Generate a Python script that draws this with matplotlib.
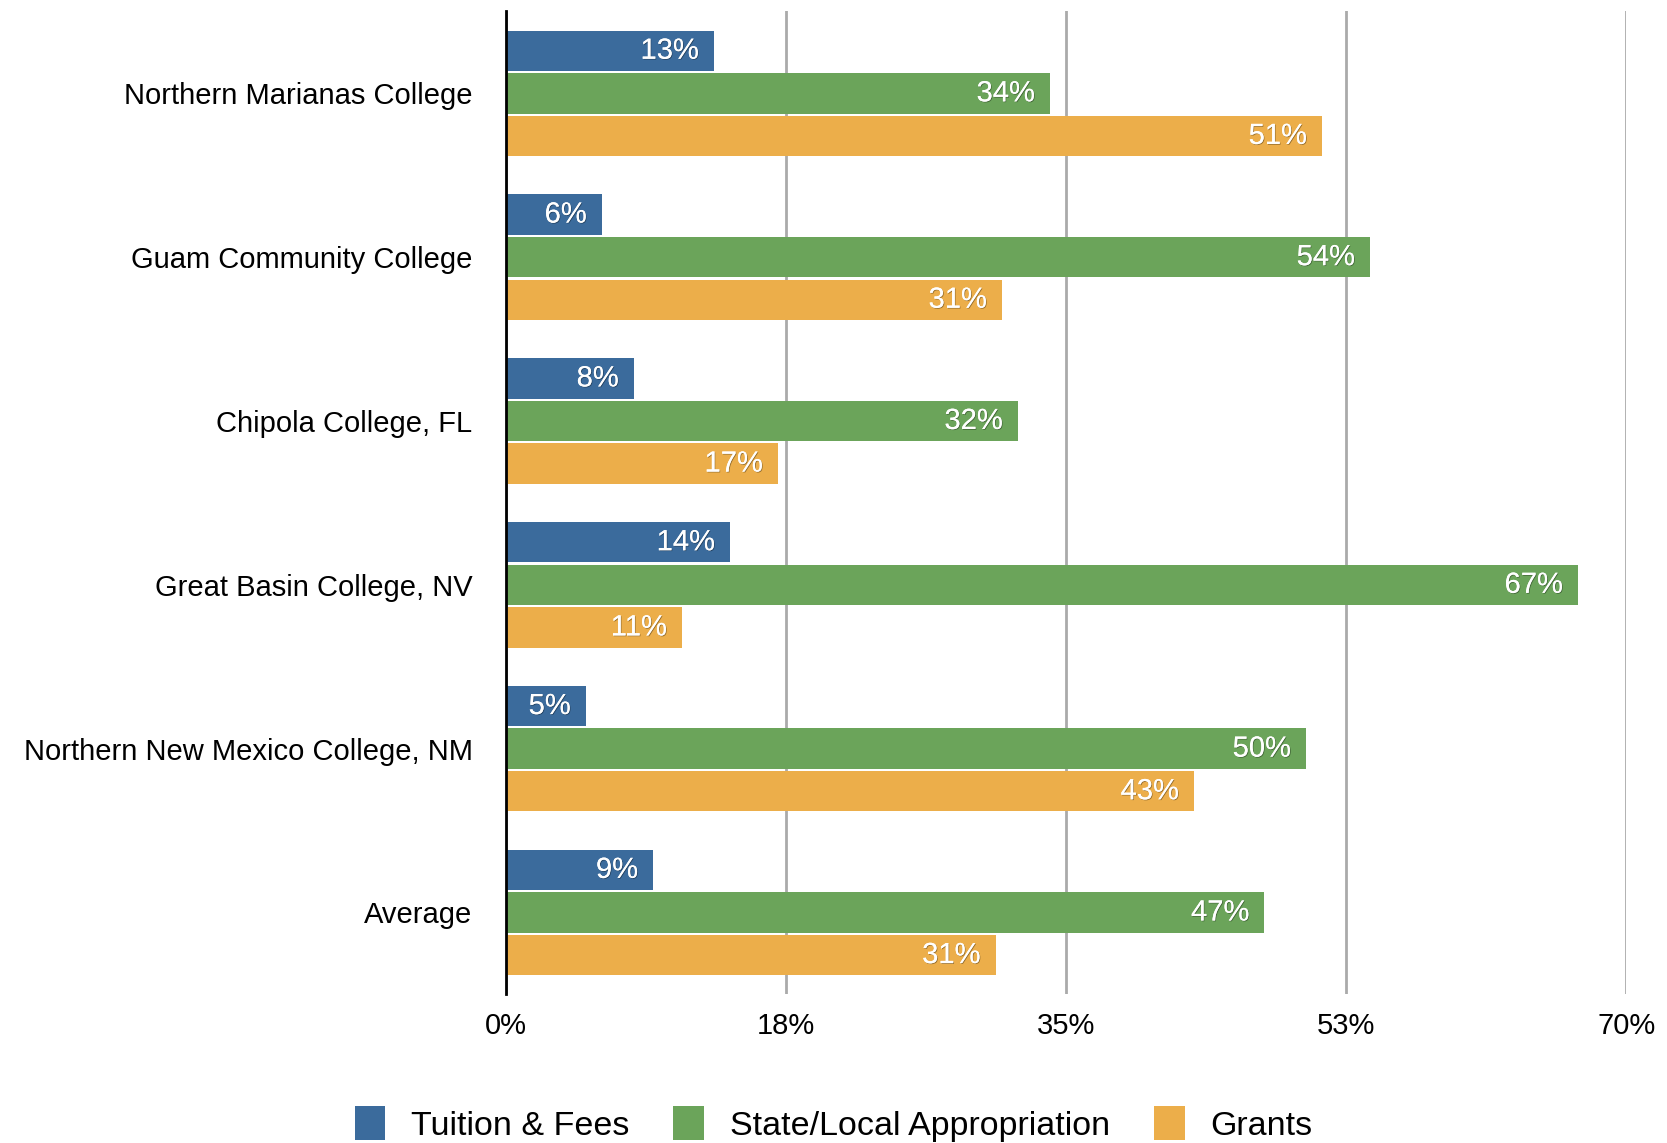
#!/usr/bin/env python3
# -*- coding: utf-8 -*-
import numpy as np
import matplotlib
matplotlib.use("Agg")
import matplotlib.pyplot as plt
import matplotlib.patheffects as pe

colleges = ["Northern Marianas College", "Guam Community College", "Chipola College, FL",
            "Great Basin College, NV", "Northern New Mexico College, NM", "Average"]
tuition = [13, 6, 8, 14, 5, 9.2]
state_local = [34, 54, 32, 67, 50, 47.4]
grants = [51, 31, 17, 11, 43, 30.6]

series_names = ["Tuition & Fees", "State/Local Appropriation", "Grants"]
colors = ["#3B6B9C", "#6BA45A", "#ECAE4A"]

xticks = [0, 17.5, 35, 52.5, 70]
xtick_labels = ["0%", "18%", "35%", "53%", "70%"]

plt.rcParams['font.family'] = ['Liberation Sans', 'DejaVu Sans']

fig = plt.figure(figsize=(16.67, 11.43), dpi=100)
ax = fig.add_axes([0.3035, 0.130, 0.672, 0.860])

y = np.arange(len(colleges))
bar_h = 0.247
step = 0.26
shadow = [pe.withSimplePatchShadow(offset=(0.6, -0.6), shadow_rgbFace='black', alpha=0.35),
          pe.Normal()]

for k, (vals, name, col) in enumerate(zip([tuition, state_local, grants], series_names, colors)):
    pos = y + (k - 1) * step
    bars = ax.barh(pos, vals, height=bar_h, color=col, label=name, zorder=3)
    for b, v in zip(bars, vals):
        ax.text(v - 0.95, b.get_y() + b.get_height() / 2, f"{round(v)}%", ha='right', va='center',
                color='white', fontsize=21, zorder=4, path_effects=shadow)

ax.set_ylim(len(colleges) - 0.5, -0.5)
ax.set_xlim(0, 70)
ax.set_yticks(y)
ax.set_yticklabels(colleges, fontsize=21)
ax.set_xticks(xticks)
ax.set_xticklabels(xtick_labels, fontsize=21)
ax.tick_params(axis='y', length=0, pad=24)
ax.tick_params(axis='x', length=0, pad=13)

ax.grid(axis='x', color='#AAAAAA', linewidth=2, zorder=0)
ax.grid(axis='y', visible=False)
for s in ['top', 'right', 'bottom']:
    ax.spines[s].set_visible(False)
ax.spines['left'].set_linewidth(2)
ax.spines['left'].set_zorder(5)

fig.legend(loc='center', bbox_to_anchor=(0.5, 0.017), ncol=3, frameon=False, fontsize=24.5,
           handlelength=0.9, handleheight=1.2, handletextpad=0.75, columnspacing=1.3)

fig.savefig("out.png", dpi=100)
